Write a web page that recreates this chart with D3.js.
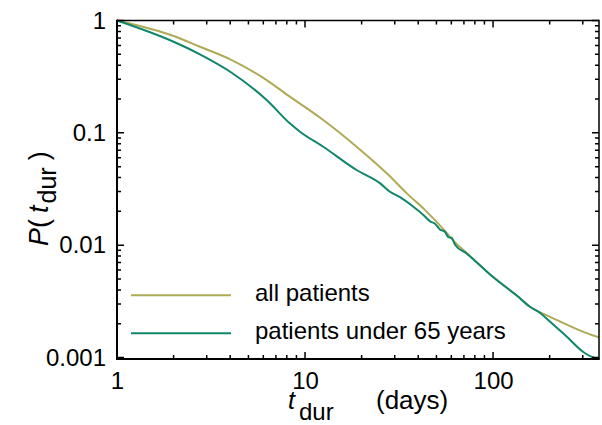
<!DOCTYPE html>
<html>
<head>
<meta charset="utf-8">
<script src="https://cdn.jsdelivr.net/npm/d3@7"></script>
<style>
  body { margin: 0; background: #fff; }
  text { font-family: "Liberation Sans", Arial, sans-serif; fill: #000; }
</style>
</head>
<body>
<div id="svg_container"></div>
<script>
// survival curves
const allDays = [1, 2, 2.76, 4, 6.25, 8.3, 9.4, 12.5, 18.8, 27.2, 34.8, 43.5, 54.4, 62, 72.5, 100, 133.7, 157, 201, 247, 302, 366];
const allP = [1, 0.728, 0.584, 0.451, 0.295, 0.21, 0.182, 0.130, 0.0752, 0.0436, 0.0289, 0.0205, 0.0139, 0.0108, 0.0085, 0.0052, 0.00356, 0.00283, 0.0023, 0.00196, 0.00169, 0.00151];

const youngDays = [1, 2, 2.76, 4, 6.25, 8.3, 9.4, 12.5, 18.8, 25.1, 28.3, 32.0, 37.7, 42.6, 46.2, 49.1, 52.2, 55.6, 57.8, 60.3, 62.8, 72.5, 100, 133.7, 157, 178, 201, 247, 302, 342, 362];
const youngP = [1, 0.647, 0.50, 0.350, 0.196, 0.1215, 0.1023, 0.0752, 0.0467, 0.0355, 0.0299, 0.0268, 0.0220, 0.0186, 0.0163, 0.0155, 0.0138, 0.0131, 0.0118, 0.0116, 0.0101, 0.0084, 0.0052, 0.00356, 0.00283, 0.00249, 0.00208, 0.00153, 0.00112, 0.00100, 0.00098];

const seriesNames = ["all patients", "patients under 65 years"];
const seriesColors = ["#aeaa55", "#0f876a"];

const xMajor = [1, 10, 100];
const xTickLabels = ["1", "10", "100"];
const xMinor = [2, 3, 4, 5, 6, 7, 8, 9, 20, 30, 40, 50, 60, 70, 80, 90, 200, 300];
const yMajor = [1, 0.1, 0.01, 0.001];
const yTickLabels = ["1", "0.1", "0.01", "0.001"];
const yMinor = [];
[0.1, 0.01, 0.001].forEach(function (d) {
    for (let k = 2; k <= 9; k++) yMinor.push(d * k);
});

const margin = { top: 20.5, right: 3, bottom: 66, left: 117 },
    width = 602 - margin.left - margin.right,
    height = 425 - margin.top - margin.bottom;

const svg = d3.select("#svg_container")
    .append("svg")
    .attr("width", width + margin.left + margin.right)
    .attr("height", height + margin.top + margin.bottom)
    .append("g")
    .attr("transform", `translate(${margin.left}, ${margin.top})`);

const x = d3.scaleLog().domain([1, 366]).range([0, width]);
const y = d3.scaleLog().domain([0.00097, 1]).range([height, 0]);

// curves
const line = d3.line()
    .x(d => x(d[0]))
    .y(d => y(d[1]))
    .curve(d3.curveMonotoneX);

const series = [
    d3.zip(allDays, allP),
    d3.zip(youngDays, youngP)
];

svg.append("g")
    .selectAll("path")
    .data(series)
    .enter()
    .append("path")
    .attr("d", line)
    .attr("fill", "none")
    .attr("stroke", (d, i) => seriesColors[i])
    .attr("stroke-width", 2);

// frame with inward ticks on all four sides
const frame = svg.append("g");
function tickPath(xs, ys, len) {
    const xp = xs.map(d => `M${x(d)},${height}v${-len}M${x(d)},0v${len}`).join("");
    const yp = ys.map(d => `M0,${y(d)}h${len}M${width},${y(d)}h${-len}`).join("");
    return xp + yp;
}
frame.append("path")
    .attr("d", tickPath(xMajor, yMajor, 7) + tickPath(xMinor, yMinor, 4))
    .attr("fill", "none").attr("stroke", "#000").attr("stroke-width", 1.5);
frame.append("path")
    .attr("d", `M0,0H${width}V${height}`)
    .attr("fill", "none").attr("stroke", "#000").attr("stroke-width", 1.5);
frame.append("path")
    .attr("d", `M0,-0.75V${height}H${width + 0.75}`)
    .attr("fill", "none").attr("stroke", "#000").attr("stroke-width", 2);

// tick labels from d3 axes
function styleAxis(g) {
    g.select(".domain").remove();
    g.selectAll(".tick line").remove();
    g.selectAll("text").attr("font-size", 24).attr("fill", "#000")
        .style("font-family", '"Liberation Sans", Arial, sans-serif');
}

svg.append("g")
    .attr("transform", `translate(0,${height})`)
    .call(d3.axisBottom(x).tickValues(xMajor).tickSize(0).tickPadding(13)
        .tickFormat((d, i) => xTickLabels[i]))
    .call(styleAxis);

svg.append("g")
    .call(d3.axisLeft(y).tickValues(yMajor).tickSize(0).tickPadding(11)
        .tickFormat((d, i) => yTickLabels[i]))
    .call(styleAxis);

// legend
const legend = svg.append("g").attr("transform", "translate(14, 274.8)");
seriesNames.forEach(function (name, i) {
    legend.append("line")
        .attr("x1", 0).attr("x2", 100)
        .attr("y1", i * 38).attr("y2", i * 38)
        .attr("stroke", seriesColors[i])
        .attr("stroke-width", 2);
    legend.append("text")
        .attr("x", 124)
        .attr("y", i * 38 + 6)
        .attr("font-size", 24)
        .text(name);
});

// x label
const xLabel = svg.append("text")
    .attr("x", 288 - margin.left)
    .attr("y", 409 - margin.top)
    .attr("font-size", 25);
xLabel.append("tspan").attr("font-style", "italic").text("t");
xLabel.append("tspan").attr("font-size", 24).attr("dx", 4).attr("dy", 11).text("dur");
svg.append("text")
    .attr("x", 376 - margin.left)
    .attr("y", 409 - margin.top)
    .attr("font-size", 26)
    .text("(days)");

// y label
const yLabel = svg.append("text")
    .attr("transform", `translate(${48 - margin.left},${246 - margin.top}) rotate(-90)`)
    .attr("font-size", 27);
yLabel.append("tspan").attr("font-style", "italic").text("P");
yLabel.append("tspan").text("(");
yLabel.append("tspan").attr("font-style", "italic").attr("dx", 6).text("t");
yLabel.append("tspan").attr("font-size", 25).attr("dx", 2).attr("dy", 8).text("dur");
yLabel.append("tspan").attr("dx", 7).attr("dy", -8).text(")");
</script>
</body>
</html>
